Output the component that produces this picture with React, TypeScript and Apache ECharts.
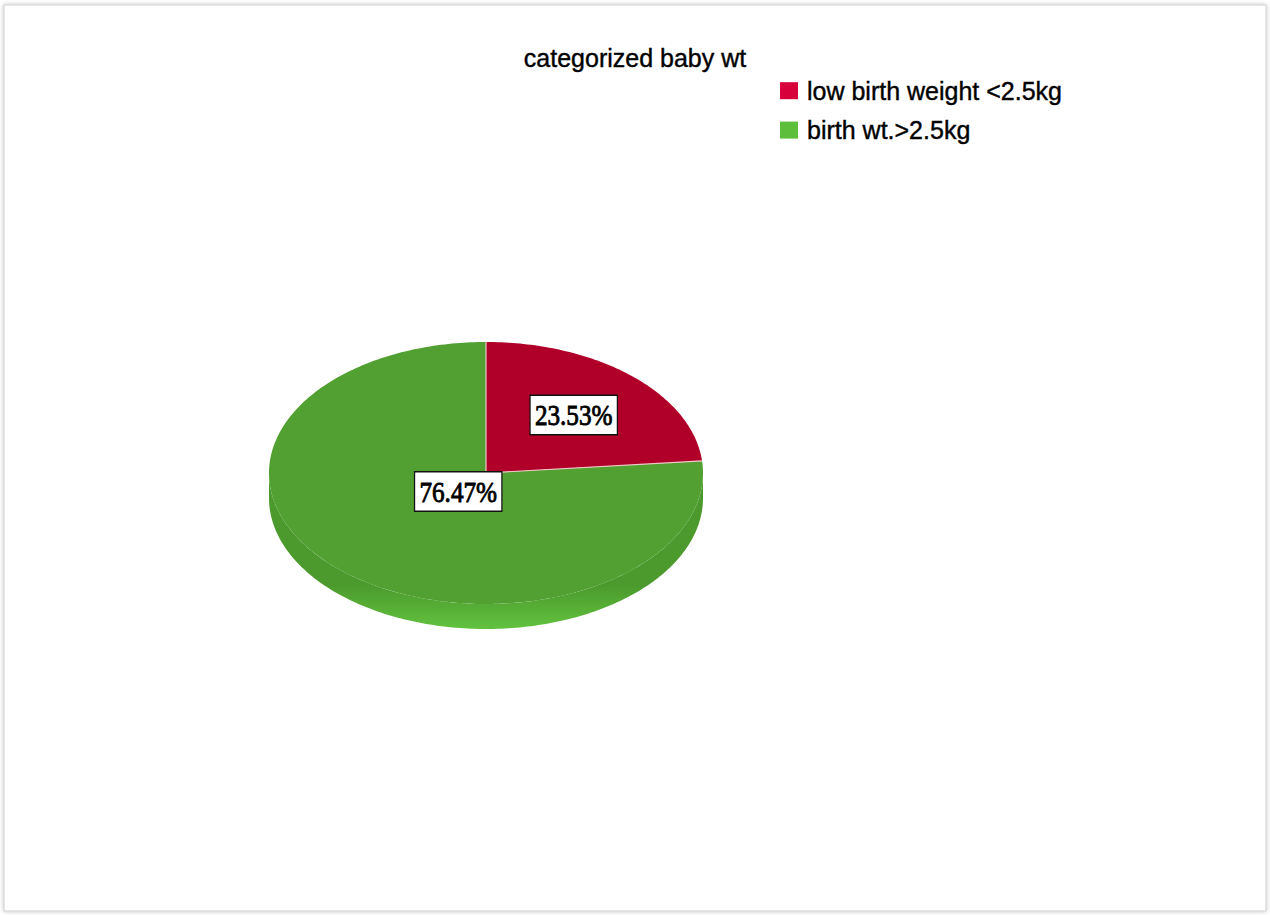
import React, { useEffect, useRef } from "react";
import * as echarts from "echarts";

const titleText = "categorized baby wt";
const categories = ["low birth weight <2.5kg", "birth wt.>2.5kg"];
const percents = [23.53, 76.47];
const topColors = ["#B0002A", "#51A031"];
const sideColors = [
  ["#8A0020", "#A3002A"],
  ["#4C9A2D", "#62C23F"],
];
const legendColors = ["#D8003B", "#5CBE3B"];

export default function App() {
  const ref = useRef<HTMLDivElement>(null);
  useEffect(() => {
    document.body.style.margin = "0";
    const chart = echarts.init(ref.current as HTMLDivElement, null, { renderer: "svg" });
    const total = percents.reduce((a, b) => a + b, 0);
    const starts: number[] = [];
    let acc = 0;
    percents.forEach((v) => {
      starts.push(acc);
      acc += v;
    });

    const CX = 486, CY = 473, RX = 217, RY = 131, DEPTH = 25;
    const labelFrac = [0.6, 0.19];
    const pt = (a: number, dy = 0, f = 1) => [
      CX + RX * f * Math.sin(a),
      CY - RY * f * Math.cos(a) + dy,
    ];

    const series = categories.map((name, i) => ({
      type: "custom",
      name,
      coordinateSystem: "none",
      data: [[percents[i], starts[i]]],
      renderItem: (params: any, api: any) => {
        const v = api.value(0) as number;
        const s = api.value(1) as number;
        const a0 = (s / total) * 2 * Math.PI;
        const a1 = ((s + v) / total) * 2 * Math.PI;
        const children: any[] = [];
        const top: number[][] = [[CX, CY]];
        const n = Math.max(2, Math.ceil((a1 - a0) / (Math.PI / 180)));
        for (let k = 0; k <= n; k++) top.push(pt(a0 + ((a1 - a0) * k) / n));
        children.push({
          type: "polygon",
          z2: 10,
          shape: { points: top },
          style: { fill: topColors[i] },
        });
        children.push({
          type: "line",
          z2: 15,
          shape: { x1: CX, y1: CY, x2: pt(a0)[0], y2: pt(a0)[1] },
          style: { stroke: "#F0C8C8", lineWidth: 1.2 },
        });
        const s0 = Math.max(a0, Math.PI / 2);
        const s1 = Math.min(a1, (3 * Math.PI) / 2);
        if (s1 > s0) {
          const m = Math.max(2, Math.ceil((s1 - s0) / (Math.PI / 180)));
          const side: number[][] = [];
          for (let k = 0; k <= m; k++) side.push(pt(s0 + ((s1 - s0) * k) / m));
          for (let k = m; k >= 0; k--) side.push(pt(s0 + ((s1 - s0) * k) / m, DEPTH));
          children.push({
            type: "polygon",
            z2: 5,
            shape: { points: side },
            style: {
              fill: new echarts.graphic.LinearGradient(0, 0, 0, 1, [
                { offset: 0, color: sideColors[i][0] },
                { offset: 0.72, color: sideColors[i][0] },
                { offset: 1, color: sideColors[i][1] },
              ]),
            },
          });
        }
        const am = (a0 + a1) / 2;
        const lp = pt(am, 0, labelFrac[i]);
        children.push({
          type: "text",
          x: lp[0],
          y: lp[1],
          scaleX: 0.84,
          z2: 20,
          style: {
            x: 0,
            y: 0,
            text: v.toFixed(2) + "%",
            fontFamily: "Liberation Serif, Times New Roman, serif",
            fontSize: 30,
            fontWeight: "normal",
            fill: "#000",
            align: "center",
            verticalAlign: "middle",
            backgroundColor: "#fff",
            borderColor: "#111",
            borderWidth: 1.5,
            padding: [5, 5, 3, 5],
            stroke: "#000",
            lineWidth: 0.9,
          },
        });
        return { type: "group", children };
      },
    }));

    chart.setOption({
      animation: false,
      backgroundColor: "#fff",
      title: {
        text: titleText,
        left: "center",
        top: 40,
        textStyle: {
          fontFamily: "Liberation Sans, Arial, sans-serif",
          fontSize: 25,
          fontWeight: "normal",
          color: "#000",
          textBorderColor: "#000",
          textBorderWidth: 0.4,
        },
      },
      legend: {
        orient: "vertical",
        left: 775,
        top: 73,
        itemWidth: 18,
        itemHeight: 17,
        itemGap: 14,
        icon: "rect",
        selectedMode: false,
        textStyle: {
          fontFamily: "Liberation Sans, Arial, sans-serif",
          fontSize: 25,
          color: "#000",
          textBorderColor: "#000",
          textBorderWidth: 0.4,
          padding: [0, 0, 0, 4],
        },
        data: categories.map((n, i) => ({ name: n, itemStyle: { color: legendColors[i] } })),
      },
      graphic: [
        {
          type: "rect",
          z: -10,
          silent: true,
          shape: { x: 4, y: 5, width: 1262, height: 906 },
          style: {
            fill: "#fff",
            stroke: "#cfcfcf",
            lineWidth: 1,
            shadowBlur: 4,
            shadowColor: "rgba(0,0,0,0.25)",
          },
        },
      ],
      series,
    } as any);
    return () => chart.dispose();
  }, []);
  return <div ref={ref} style={{ width: 1270, height: 915 }} />;
}
